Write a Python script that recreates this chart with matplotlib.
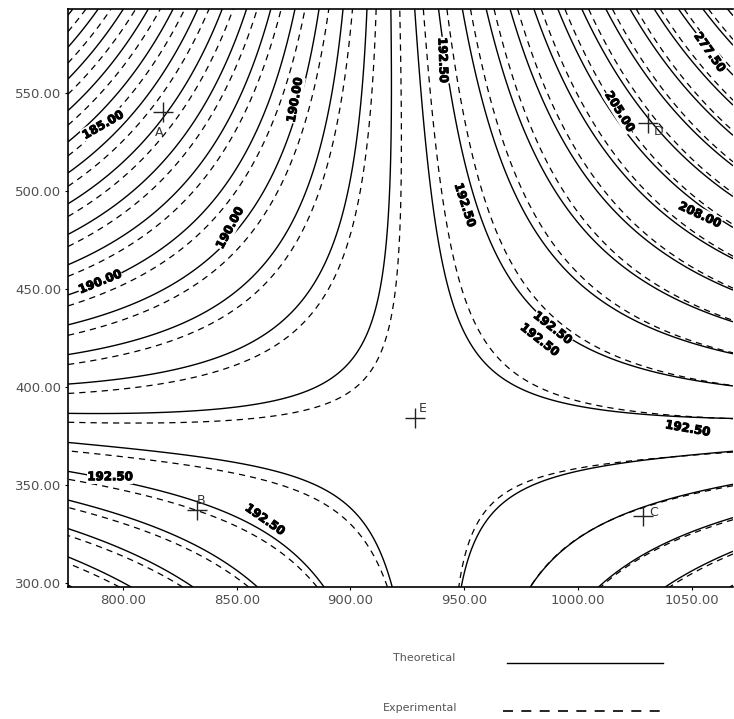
import numpy as np
import matplotlib
matplotlib.use('Agg')
import matplotlib.pyplot as plt
import matplotlib.patheffects as pe
from matplotlib.lines import Line2D

point_names = ['A', 'B', 'C', 'D', 'E']
point_x = [817.6, 832.5, 1028.5, 1030.7, 928.3]
point_y = [540.3, 337.2, 334.2, 534.7, 384.2]
name_dx = [-3, 3, 8, 8, 6]      # letter offset from the cross, points
name_dy = [-15, 7, 2, -6, 7]

x_null_pts = ([298.0, 593.0], [933.5, 923.0])              # vertical null line x0(y)
y_null_pts = ([776.0, 900.0, 1068.0], [379.0, 374.0, 375.5])  # horizontal null line y0(x)
theory_levels = [1150, 3450, 5750, 8050, 10350, 12650, 14950,
                 17250, 19550, 21850, 24150, 26450, 28750, 31050]
# experimental map: small shift of the saddle and an offset of the field
exp_shift_x, exp_shift_y, exp_offset = 2.5, -2.5, 300

# contour value labels: position, rotation, text
lab_x = [791.2, 875.6, 847.0, 789.9, 940.6, 950.3, 983.2, 988.9,
         1018.4, 1053.6, 1057.9, 1048.3, 794.3, 862.4]
lab_y = [533.7, 546.4, 481.1, 453.6, 566.8, 492.8, 424.0, 430.1,
         540.5, 487.8, 570.9, 378.7, 354.1, 332.2]
lab_rot = [30, 80, 62, 22, -88, -72, -38, -38, -58, -25, -55, -10, 0, -35]
lab_txt = ['185.00', '190.00', '190.00', '190.00', '192.50', '192.50',
           '192.50', '192.50', '205.00', '208.00', '277.50', '192.50',
           '192.50', '192.50']

xlim = (775.8, 1068.2)
ylim = (297.8, 592.9)
xticks = [800, 850, 900, 950, 1000, 1050]
yticks = [300, 350, 400, 450, 500, 550]

fig = plt.figure(figsize=(7.34, 7.19), dpi=100)
ax = fig.add_axes([68/734, 1 - 587/719, 665/734, 578/719])

xs = np.linspace(xlim[0], xlim[1], 600)
ys = np.linspace(ylim[0], ylim[1], 600)
X, Y = np.meshgrid(xs, ys)
kx = np.polyfit(*x_null_pts, 1)
ky = np.polyfit(*y_null_pts, 2)
U = X - np.polyval(kx, Y)
V = Y - np.polyval(ky, X)
theory = U * V
experiment = (U - exp_shift_x) * (V - exp_shift_y) - exp_offset

ax.contour(X, Y, np.abs(theory), levels=theory_levels, colors='k',
           linewidths=1.0, linestyles='solid')
ax.contour(X, Y, np.abs(experiment), levels=theory_levels, colors='k',
           linewidths=0.9, linestyles=[(0, (5, 4))])

for x, y, r, t in zip(lab_x, lab_y, lab_rot, lab_txt):
    ax.text(x, y, t, rotation=r, ha='center', va='center', fontsize=8.5,
            fontweight='bold', color='k', rotation_mode='anchor',
            bbox=dict(boxstyle='square,pad=0.05', fc='white', ec='none'),
            path_effects=[pe.withStroke(linewidth=0.7, foreground='k')])

ax.plot(point_x, point_y, '+', color='#222222', markersize=14, markeredgewidth=1.0)
for n, x, y, dx, dy in zip(point_names, point_x, point_y, name_dx, name_dy):
    ax.annotate(n, (x, y), xytext=(dx, dy), textcoords='offset points',
                ha='center', va='center', fontsize=9, color='#333333')

ax.set_xlim(*xlim)
ax.set_ylim(*ylim)
ax.set_xticks(xticks)
ax.set_yticks(yticks)
ax.set_xticklabels(['%.2f' % v for v in xticks])
ax.set_yticklabels(['%.2f' % v for v in yticks])
ax.tick_params(direction='out', length=2, width=0.8, labelsize=9.5,
               labelcolor='#505050', pad=3)
ax.spines['right'].set_visible(False)
for s in ['left', 'bottom', 'top']:
    ax.spines[s].set_linewidth(1.2)

# legend under the plot
fig.text(393/734, 1 - 658/719, 'Theoretical', fontsize=8, color='#555555', va='center')
fig.text(383/734, 1 - 708/719, 'Experimental', fontsize=8, color='#555555', va='center')
fig.add_artist(Line2D([507/734, 663/734], [1 - 663/719] * 2, color='k', lw=1.0,
                      transform=fig.transFigure))
fig.add_artist(Line2D([503/734, 665/734], [1 - 711/719] * 2, color='k', lw=1.2,
                      linestyle=(0, (6, 5)), transform=fig.transFigure))

fig.savefig('out.png', dpi=100)
